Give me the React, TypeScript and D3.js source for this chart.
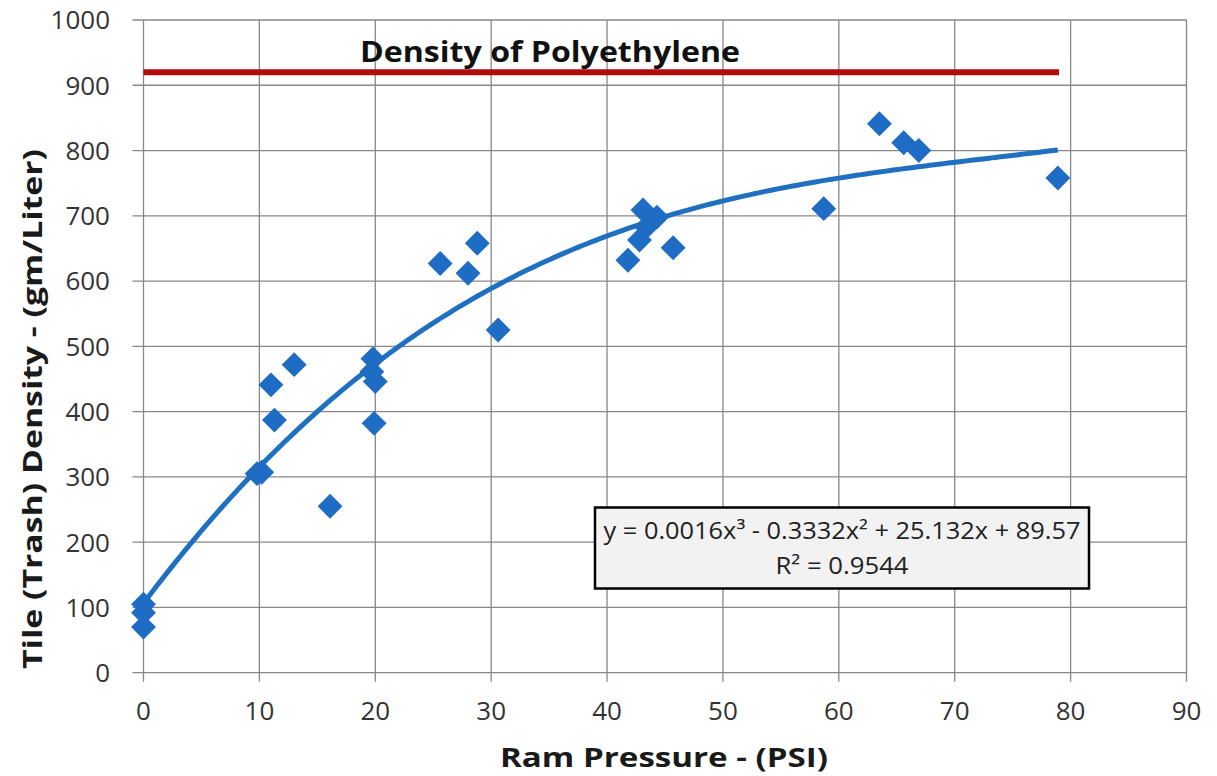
import { useEffect, useRef } from "react";
import * as d3 from "d3";

// Ram pressure (PSI) and tile density (gm/Liter)
const pressure = [0, 0, 0, 9.8, 10.2, 11, 11.3, 13, 16.1, 19.8, 19.7, 20, 19.9, 25.6, 28, 28.8, 30.6, 41.8, 42.8, 43.1, 43.4, 44.3, 45.7, 58.7, 63.5, 65.6, 66.9, 78.9];
const density = [105, 92, 70, 305, 307, 441, 387, 472, 255, 481, 461, 446, 382, 627, 612, 658, 525, 632, 663, 709, 683, 698, 651, 711, 841, 812, 800, 758];

const xTicks = [0, 10, 20, 30, 40, 50, 60, 70, 80, 90];
const yTicks = [0, 100, 200, 300, 400, 500, 600, 700, 800, 900, 1000];

const refLabel = "Density of Polyethylene";
const refValue = 920;
const refRange = [0, 79];

const eqLine1 = "y = 0.0016x³ - 0.3332x² + 25.132x + 89.57";
const eqLine2 = "R² = 0.9544";

// least squares cubic through the points (same as the Excel trendline)
function fitCubic(xs: number[], ys: number[]) {
  const n = 4;
  const A = Array.from({ length: n }, () => new Array(n + 1).fill(0));
  xs.forEach((x, k) => {
    for (let i = 0; i < n; i++) {
      for (let j = 0; j < n; j++) A[i][j] += Math.pow(x, i + j);
      A[i][n] += ys[k] * Math.pow(x, i);
    }
  });
  for (let c = 0; c < n; c++) {
    let p = c;
    for (let r = c + 1; r < n; r++) if (Math.abs(A[r][c]) > Math.abs(A[p][c])) p = r;
    [A[c], A[p]] = [A[p], A[c]];
    for (let r = 0; r < n; r++) {
      if (r === c) continue;
      const f = A[r][c] / A[c][c];
      for (let k = c; k <= n; k++) A[r][k] -= f * A[c][k];
    }
  }
  return A.map((row, i) => row[n] / A[i][i]);
}

export default function App() {
  const svgRef = useRef<SVGSVGElement>(null);

  useEffect(() => {
    if (!svgRef.current) return;
    const width = 1217;
    const height = 776;
    const left = 143.5, right = 1186.5, top = 20, bottom = 672.7;

    const svg = d3.select(svgRef.current);
    svg.selectAll("*").remove();
    svg.attr("width", width).attr("height", height);

    const font = "'Open Sans', 'Liberation Sans', Arial, sans-serif";

    const x = d3.scaleLinear().domain([0, 90]).range([left, right]);
    const y = d3.scaleLinear().domain([0, 1000]).range([bottom, top]);

    const grid = svg.append("g").attr("stroke", "#888").attr("stroke-width", 1.3);
    grid.selectAll("line.h")
      .data(yTicks)
      .enter()
      .append("line")
      .attr("x1", left - 11)
      .attr("x2", right)
      .attr("y1", d => y(d))
      .attr("y2", d => y(d));
    grid.selectAll("line.v")
      .data(xTicks)
      .enter()
      .append("line")
      .attr("x1", d => x(d))
      .attr("x2", d => x(d))
      .attr("y1", top)
      .attr("y2", bottom + 9);

    // tick labels
    svg.append("g")
      .selectAll("text")
      .data(yTicks)
      .enter()
      .append("text")
      .attr("x", 110)
      .attr("y", d => y(d))
      .attr("dy", "0.36em")
      .attr("text-anchor", "end")
      .attr("font-family", font)
      .attr("font-size", 26)
      .attr("fill", "#333")
      .text(d => d);

    svg.append("g")
      .selectAll("text")
      .data(xTicks)
      .enter()
      .append("text")
      .attr("x", d => x(d))
      .attr("y", 720)
      .attr("text-anchor", "middle")
      .attr("font-family", font)
      .attr("font-size", 26)
      .attr("fill", "#333")
      .text(d => d);

    // axis titles
    svg.append("text")
      .attr("x", 664)
      .attr("y", 767)
      .attr("text-anchor", "middle")
      .attr("font-family", font)
      .attr("font-weight", "bold")
      .attr("font-size", 27)
      .attr("textLength", 328)
      .attr("lengthAdjust", "spacingAndGlyphs")
      .attr("fill", "#1a1a1a")
      .text("Ram Pressure - (PSI)");

    svg.append("text")
      .attr("transform", `translate(42,409) rotate(-90)`)
      .attr("text-anchor", "middle")
      .attr("font-family", font)
      .attr("font-weight", "bold")
      .attr("font-size", 27)
      .attr("textLength", 520)
      .attr("lengthAdjust", "spacingAndGlyphs")
      .attr("fill", "#1a1a1a")
      .text("Tile (Trash) Density - (gm/Liter)");

    // polyethylene reference line
    svg.append("line")
      .attr("x1", x(refRange[0]))
      .attr("x2", x(refRange[1]))
      .attr("y1", y(refValue))
      .attr("y2", y(refValue))
      .attr("stroke", "#b30a0a")
      .attr("stroke-width", 6);
    svg.append("text")
      .attr("x", 550)
      .attr("y", 62)
      .attr("text-anchor", "middle")
      .attr("font-family", font)
      .attr("font-weight", "bold")
      .attr("font-size", 29)
      .attr("textLength", 380)
      .attr("lengthAdjust", "spacingAndGlyphs")
      .attr("fill", "#111")
      .text(refLabel);

    // trendline
    const coef = fitCubic(pressure, density);
    const maxX = d3.max(pressure) as number;
    const xs = d3.range(0, 201).map(i => (maxX * i) / 200);
    const line = d3.line<number>()
      .x(d => x(d))
      .y(d => y(coef[0] + coef[1] * d + coef[2] * d * d + coef[3] * d * d * d))
      .curve(d3.curveMonotoneX);
    svg.append("path")
      .attr("d", line(xs))
      .attr("fill", "none")
      .attr("stroke", "#1f70c1")
      .attr("stroke-width", 5);

    // points
    const diamond = d3.symbol().type(d3.symbolSquare).size(310);
    svg.append("g")
      .selectAll("path")
      .data(pressure.map((p, i) => [p, density[i]]))
      .enter()
      .append("path")
      .attr("d", diamond)
      .attr("transform", d => `translate(${x(d[0])},${y(d[1])}) rotate(45)`)
      .attr("fill", "#1f6cc4");

    // equation box
    svg.append("rect")
      .attr("x", 595)
      .attr("y", 507.5)
      .attr("width", 494)
      .attr("height", 81)
      .attr("fill", "#f2f2f2")
      .attr("stroke", "#000")
      .attr("stroke-width", 2.5);
    svg.append("text")
      .attr("x", 842)
      .attr("y", 539)
      .attr("text-anchor", "middle")
      .attr("font-family", font)
      .attr("font-size", 24)
      .attr("textLength", 477)
      .attr("lengthAdjust", "spacingAndGlyphs")
      .attr("fill", "#222")
      .text(eqLine1);
    svg.append("text")
      .attr("x", 842)
      .attr("y", 574)
      .attr("text-anchor", "middle")
      .attr("font-family", font)
      .attr("font-size", 24)
      .attr("textLength", 133)
      .attr("lengthAdjust", "spacingAndGlyphs")
      .attr("fill", "#222")
      .text(eqLine2);
  }, []);

  return (
    <svg ref={svgRef} style={{ position: "absolute", left: 0, top: 0, background: "#fff" }} />
  );
}
